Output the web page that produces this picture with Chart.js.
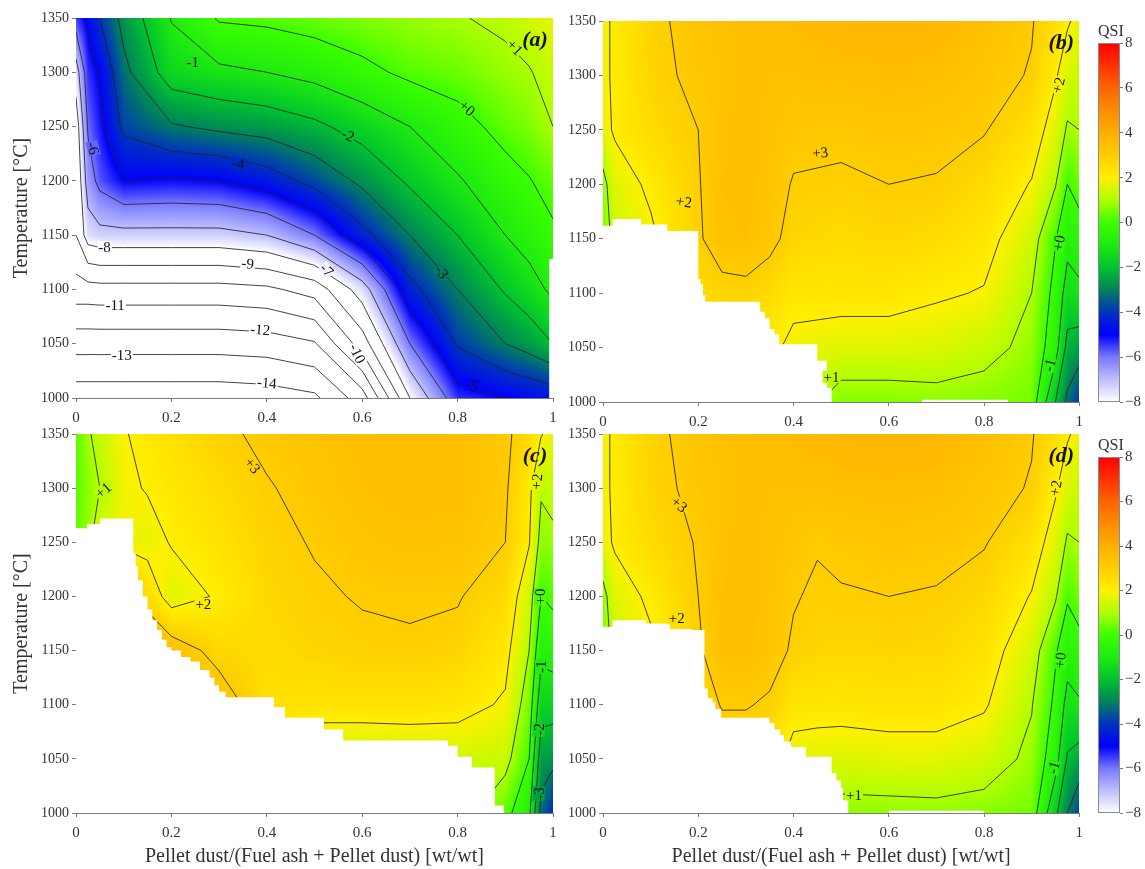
<!DOCTYPE html>
<html>
<head>
<meta charset="utf-8">
<title>QSI maps</title>
<script src="https://cdn.jsdelivr.net/npm/chart.js@4.4.1/dist/chart.umd.min.js"></script>
<style>
  html, body { margin: 0; padding: 0; background: #fff; }
  #stage { position: relative; width: 1145px; height: 869px; overflow: hidden; }
  #stage canvas { position: absolute; }
</style>
</head>
<body>
<div id="stage">
  <canvas id="chartA" width="570" height="430" style="left:0;top:0"></canvas>
  <canvas id="chartB" width="530" height="430" style="left:560px;top:0"></canvas>
  <canvas id="barTop" width="60" height="430" style="left:1082px;top:0"></canvas>
  <canvas id="chartC" width="570" height="454" style="left:0;top:415px"></canvas>
  <canvas id="chartD" width="530" height="454" style="left:560px;top:415px"></canvas>
  <canvas id="barBottom" width="60" height="454" style="left:1082px;top:415px"></canvas>
</div>
<script>
// ===== DATA =====
// Temperature rows of the calculation grid (°C), shared by the four maps
const temps = [1000, 1050, 1100, 1150, 1200, 1250, 1300, 1350];

// (a) QSI, one row per temperature (1000 -> 1350), one value per column in colsA
const colsA = [0, 0.025, 0.05, 0.1, 0.2, 0.3, 0.4, 0.5, 0.6, 0.7, 0.8, 0.9, 0.95, 1];
const qsiA = [
  [-14.6, -14.6, -14.6, -14.6, -14.6, -14.6, -14.5, -14.2, -12.5, -8.0, -5.4, -5.0, -4.8, -4.6],
  [-12.6, -12.6, -12.6, -12.6, -12.6, -12.6, -12.5, -12.1, -9.5, -6.0, -3.9, -3.0, -2.6, -2.0],
  [-10.4, -10.4, -10.35, -10.35, -10.35, -10.35, -10.2, -9.6, -7.5, -4.3, -3.0, -1.9, -1.4, -0.8],
  [-9.0, -7.5, -7.3, -7.3, -7.3, -7.3, -7.0, -6.0, -4.3, -3.0, -2.0, -1.0, -0.6, -0.15],
  [-9.0, -6.5, -5.7, -5.0, -5.1, -5.0, -4.5, -3.7, -2.8, -1.85, -1.1, -0.35, -0.05, 0.35],
  [-8.6, -5.9, -5.2, -3.8, -3.1, -2.8, -2.6, -2.2, -1.6, -1.0, -0.35, 0.3, 0.55, 1.0],
  [-7.5, -5.4, -4.9, -3.25, -1.5, -1.2, -1.0, -0.7, -0.25, 0.2, 0.4, 0.8, 0.95, 1.3],
  [-5.5, -4.8, -4.0, -2.7, -0.95, 0.1, 0.2, 0.4, 0.6, 0.8, 0.95, 1.15, 1.4, 1.75]
];
// lowest temperature with a result, as steps starting at each x
const floorA = [[0, 1000], [0.992, 1128], [1, 1128]];
const levelsA = [-14, -13, -12, -11, -10, -9, -8, -7, -6, -5, -4, -3, -2, -1, 0, 1];
const labelsA = [
  ['-1', 0.245, 1309], ['+0', 0.82, 1267], ['+1', 0.92, 1323], ['-2', 0.57, 1242],
  ['-3', 0.767, 1116], ['-4', 0.34, 1216], ['-5', 0.83, 1012], ['-6', 0.036, 1230],
  ['-7', 0.526, 1118], ['-8', 0.06, 1139], ['-9', 0.36, 1124], ['-10', 0.59, 1041],
  ['-11', 0.082, 1086], ['-12', 0.386, 1063], ['-13', 0.096, 1040], ['-14', 0.40, 1014]
];
const tiltA = [0, 40, 45, 25, 55, 8, 15, 75, 45, 0, 5, 65, 0, 5, 0, 5];

// (b)
const colsB = [0, 0.025, 0.1, 0.2, 0.25, 0.3, 0.35, 0.4, 0.5, 0.6, 0.7, 0.8, 0.9, 0.95, 0.975, 1];
const qsiB = [
  [0.5, 1.3, 1.8, 2.5, 2.5, 2.5, 2.3, 1.5, 0.6, 0.6, 0.7, 0.6, 0.5, -2.0, -3.2, -4.0],
  [0.5, 1.3, 1.8, 2.5, 2.5, 2.5, 2.2, 1.8, 1.6, 1.6, 1.55, 1.3, 0.75, -0.6, -2.3, -2.5],
  [0.5, 1.3, 1.8, 2.6, 2.75, 2.8, 2.6, 2.25, 2.3, 2.3, 2.1, 1.95, 1.0, -0.3, -1.4, -1.2],
  [0.5, 1.3, 1.85, 2.9, 3.4, 3.45, 3.2, 2.75, 2.6, 2.7, 2.6, 2.3, 1.4, 0.05, -0.7, -0.5],
  [0.7, 1.6, 2.15, 2.95, 3.45, 3.55, 3.3, 2.95, 2.9, 3.0, 2.95, 2.6, 1.95, 1.05, 0.0, 0.4],
  [1.75, 2.1, 2.6, 3.0, 3.4, 3.55, 3.4, 3.2, 3.15, 3.25, 3.2, 3.05, 2.45, 1.6, 0.9, 1.0],
  [1.8, 2.15, 2.75, 3.2, 3.35, 3.5, 3.45, 3.45, 3.5, 3.55, 3.5, 3.25, 2.95, 2.1, 1.5, 1.35],
  [1.8, 2.15, 2.8, 3.3, 3.4, 3.5, 3.55, 3.6, 3.7, 3.75, 3.7, 3.5, 3.05, 2.5, 2.1, 1.75]
];
const floorB = [
  [0, 1162], [0.02, 1168], [0.08, 1163], [0.135, 1157], [0.2, 1113], [0.205, 1108],
  [0.21, 1098], [0.215, 1092], [0.33, 1083], [0.34, 1077], [0.35, 1067], [0.36, 1062],
  [0.37, 1053], [0.45, 1038], [0.47, 1013], [0.48, 1000], [0.67, 1002], [0.85, 1000], [1, 1000]
];
const levelsB = [-3, -2, -1, 0, 1, 2, 3];
const labelsB = [
  ['+2', 0.17, 1184], ['+3', 0.456, 1229], ['+2', 0.956, 1291],
  ['+0', 0.957, 1146], ['-1', 0.9375, 1034], ['+1', 0.48, 1023]
];
const tiltB = [8, -5, -75, -80, -75, 0];

// (c)
const colsC = [0, 0.025, 0.05, 0.1, 0.15, 0.2, 0.3, 0.4, 0.5, 0.6, 0.7, 0.8, 0.9, 0.95, 0.975, 1];
const qsiC = [
  [0.3, 0.8, 2.0, 4.5, 4.0, 3.6, 3.5, 2.2, 1.2, 1.2, 1.3, 1.4, 0.3, -0.8, -3.3, -4.2],
  [0.3, 0.8, 2.0, 4.5, 4.0, 3.6, 3.5, 2.2, 1.2, 1.2, 1.3, 1.4, 1.3, 0.0, -2.55, -2.7],
  [0.3, 0.8, 2.0, 4.5, 4.0, 3.6, 3.5, 2.45, 2.4, 2.4, 2.4, 2.3, 1.9, 0.5, -1.6, -1.6],
  [0.3, 0.8, 2.0, 4.5, 4.0, 3.5, 2.7, 2.6, 2.75, 2.85, 2.9, 2.8, 2.25, 1.0, -0.75, -0.6],
  [0.3, 0.8, 1.5, 3.5, 2.6, 1.6, 2.1, 2.7, 2.9, 3.05, 3.1, 3.05, 2.6, 1.4, 0.0, 0.2],
  [0.3, 0.8, 1.5, 1.8, 1.7, 2.05, 2.4, 2.8, 3.05, 3.3, 3.4, 3.35, 3.0, 2.05, 0.7, 0.8],
  [0.2, 0.7, 1.0, 1.85, 2.05, 2.25, 2.6, 2.95, 3.2, 3.45, 3.55, 3.5, 3.1, 2.2, 1.1, 1.3],
  [0.2, 0.9, 1.3, 1.95, 2.2, 2.45, 2.85, 3.15, 3.35, 3.5, 3.55, 3.5, 3.15, 2.6, 2.05, 1.7]
];
const floorC = [
  [0, 1263], [0.023, 1267], [0.05, 1272], [0.12, 1240], [0.125, 1228], [0.13, 1215],
  [0.14, 1200], [0.15, 1188], [0.16, 1178], [0.17, 1169], [0.18, 1160], [0.19, 1153],
  [0.2, 1150], [0.22, 1144], [0.24, 1140], [0.26, 1132], [0.28, 1125], [0.29, 1118],
  [0.3, 1112], [0.314, 1107], [0.415, 1098], [0.438, 1088], [0.52, 1077], [0.56, 1067],
  [0.78, 1062], [0.8, 1052], [0.83, 1042], [0.878, 1007], [0.897, 1000], [1, 1000]
];
const levelsC = [-3, -2, -1, 0, 1, 2, 3];
const labelsC = [
  ['+1', 0.057, 1298], ['+2', 0.267, 1193], ['+3', 0.37, 1321], ['+2', 0.966, 1306],
  ['+0', 0.973, 1200], ['-1', 0.975, 1135], ['-2', 0.97, 1077], ['-3', 0.97, 1018]
];
const tiltC = [-40, 0, 50, -85, -90, -90, -90, -90];

// (d)
const colsD = [0, 0.025, 0.1, 0.2, 0.25, 0.3, 0.35, 0.4, 0.45, 0.5, 0.6, 0.7, 0.8, 0.9, 0.95, 0.975, 1];
const qsiD = [
  [0.5, 1.3, 1.8, 2.5, 2.6, 2.6, 2.4, 1.4, 1.0, 0.7, 0.7, 0.75, 0.65, 0.5, -1.8, -3.0, -3.8],
  [0.5, 1.3, 1.8, 2.5, 2.55, 2.55, 2.4, 1.7, 1.6, 1.55, 1.65, 1.65, 1.45, 0.8, -0.6, -2.1, -2.4],
  [0.5, 1.3, 1.8, 2.6, 3.05, 3.05, 2.9, 2.3, 2.3, 2.3, 2.35, 2.35, 2.1, 1.05, -0.2, -1.3, -1.1],
  [0.5, 1.3, 1.85, 2.9, 3.45, 3.5, 3.3, 2.9, 2.75, 2.7, 2.75, 2.7, 2.4, 1.45, 0.1, -0.6, -0.4],
  [0.7, 1.6, 2.15, 3.0, 3.45, 3.55, 3.35, 3.05, 2.9, 2.95, 3.0, 2.95, 2.7, 1.95, 1.1, 0.1, 0.5],
  [1.75, 2.1, 2.6, 3.05, 3.4, 3.55, 3.4, 3.25, 3.05, 3.15, 3.25, 3.2, 3.05, 2.45, 1.6, 0.9, 1.0],
  [1.8, 2.15, 2.75, 3.2, 3.35, 3.5, 3.45, 3.45, 3.45, 3.5, 3.55, 3.5, 3.25, 2.95, 2.1, 1.5, 1.35],
  [1.8, 2.15, 2.8, 3.3, 3.4, 3.5, 3.55, 3.6, 3.65, 3.7, 3.75, 3.7, 3.5, 3.05, 2.5, 2.1, 1.75]
];
const floorD = [
  [0, 1172], [0.02, 1178], [0.09, 1175], [0.14, 1170], [0.186, 1169], [0.213, 1115],
  [0.22, 1106], [0.23, 1102], [0.236, 1096], [0.248, 1088], [0.35, 1083], [0.36, 1077],
  [0.372, 1072], [0.38, 1066], [0.395, 1061], [0.426, 1052], [0.48, 1037], [0.49, 1030],
  [0.5, 1023], [0.504, 1012], [0.515, 1000], [0.6, 1002], [0.8, 1000], [1, 1000]
];
const levelsD = [-3, -2, -1, 0, 1, 2, 3];
const labelsD = [
  ['+3', 0.16, 1285], ['+2', 0.155, 1180], ['+2', 0.95, 1300],
  ['+0', 0.96, 1141], ['-1', 0.946, 1042], ['+1', 0.527, 1017]
];
const tiltD = [40, 0, -80, -85, -75, 0];

// QSI colour scale: value -> rgb
const qsiStops = [
  [-8, [255, 255, 255]], [-7, [190, 190, 255]], [-6, [120, 120, 255]], [-5, [0, 0, 255]],
  [-4, [0, 50, 190]], [-3, [0, 130, 90]], [-2, [0, 195, 45]], [-1, [30, 235, 15]],
  [0, [60, 255, 0]], [1, [175, 255, 0]], [2, [255, 240, 0]], [3, [255, 205, 0]],
  [4, [255, 175, 0]], [5, [255, 140, 0]], [6, [255, 100, 0]], [7, [255, 50, 0]], [8, [255, 0, 0]]
];

// ===== HELPERS =====
Chart.defaults.font.family = '"Liberation Serif", "Times New Roman", serif';
Chart.defaults.color = '#333';
const axisGrey = '#7a7a7a';

function qsiColor(v) {
  const s = qsiStops;
  if (v <= s[0][0]) return s[0][1];
  for (let k = 1; k < s.length; k++) {
    if (v <= s[k][0]) {
      const [v0, c0] = s[k - 1], [v1, c1] = s[k];
      const f = (v - v0) / (v1 - v0);
      return [c0[0] + (c1[0] - c0[0]) * f, c0[1] + (c1[1] - c0[1]) * f, c0[2] + (c1[2] - c0[2]) * f];
    }
  }
  return s[s.length - 1][1];
}

// cell index + fraction of v along a sorted grid axis
function locate(axis, v) {
  const n = axis.length;
  if (v <= axis[0]) return { i: 0, f: 0 };
  if (v >= axis[n - 1]) return { i: n - 2, f: 1 };
  let i = 0;
  while (axis[i + 1] < v) i++;
  return { i, f: (v - axis[i]) / (axis[i + 1] - axis[i]) };
}

function fieldAt(grid, cx, ty) {
  const r0 = grid[ty.i], r1 = grid[ty.i + 1];
  const a = r0[cx.i] + (r0[cx.i + 1] - r0[cx.i]) * cx.f;
  const b = r1[cx.i] + (r1[cx.i + 1] - r1[cx.i]) * cx.f;
  return a + (b - a) * ty.f;
}

// marching squares over the grid cells, one straight piece per crossing
function contourSegments(cols, grid, level) {
  const segs = [];
  const up = v => v >= level;
  const cut = (p, q, P, Q) => {
    const f = (level - p) / (q - p);
    return [P[0] + (Q[0] - P[0]) * f, P[1] + (Q[1] - P[1]) * f];
  };
  for (let j = 0; j < temps.length - 1; j++) {
    for (let i = 0; i < cols.length - 1; i++) {
      const A = [cols[i], temps[j]], B = [cols[i + 1], temps[j]];
      const C = [cols[i + 1], temps[j + 1]], D = [cols[i], temps[j + 1]];
      const a = grid[j][i], b = grid[j][i + 1], c = grid[j + 1][i + 1], d = grid[j + 1][i];
      const p = {};
      if (up(a) !== up(b)) p.s = cut(a, b, A, B);
      if (up(b) !== up(c)) p.e = cut(b, c, B, C);
      if (up(d) !== up(c)) p.n = cut(d, c, D, C);
      if (up(a) !== up(d)) p.w = cut(a, d, A, D);
      const k = Object.keys(p);
      if (k.length === 2) segs.push([p[k[0]], p[k[1]]]);
      else if (k.length === 4) {
        if (up((a + b + c + d) / 4) === up(a)) segs.push([p.s, p.e], [p.n, p.w]);
        else segs.push([p.s, p.w], [p.e, p.n]);
      }
    }
  }
  return segs;
}

const mapSetup = {
  chartA: { tag: '(a)', cols: colsA, grid: qsiA, levels: levelsA, labels: labelsA, tilt: tiltA },
  chartB: { tag: '(b)', cols: colsB, grid: qsiB, levels: levelsB, labels: labelsB, tilt: tiltB },
  chartC: { tag: '(c)', cols: colsC, grid: qsiC, levels: levelsC, labels: labelsC, tilt: tiltC },
  chartD: { tag: '(d)', cols: colsD, grid: qsiD, levels: levelsD, labels: labelsD, tilt: tiltD }
};

// ===== FIELD LAYER: shaded map + isolines under the no-data mask =====
const fieldLayer = {
  id: 'fieldLayer',
  beforeDatasetsDraw(chart) {
    const m = mapSetup[chart.canvas.id];
    const { ctx, chartArea: area, scales: { x, y } } = chart;
    const w = Math.round(area.right - area.left), h = Math.round(area.bottom - area.top);
    const buf = document.createElement('canvas');
    buf.width = w; buf.height = h;
    const bctx = buf.getContext('2d');
    const img = bctx.createImageData(w, h);
    const cx = [], ty = [];
    for (let i = 0; i < w; i++) cx.push(locate(m.cols, x.getValueForPixel(area.left + i + 0.5)));
    for (let j = 0; j < h; j++) ty.push(locate(temps, y.getValueForPixel(area.top + j + 0.5)));
    let k = 0;
    for (let j = 0; j < h; j++) {
      for (let i = 0; i < w; i++) {
        const c = qsiColor(fieldAt(m.grid, cx[i], ty[j]));
        img.data[k++] = c[0]; img.data[k++] = c[1]; img.data[k++] = c[2]; img.data[k++] = 255;
      }
    }
    bctx.putImageData(img, 0, 0);
    ctx.drawImage(buf, area.left, area.top);

    ctx.save();
    ctx.beginPath();
    ctx.rect(area.left, area.top, area.right - area.left, area.bottom - area.top);
    ctx.clip();
    ctx.strokeStyle = 'rgba(35,35,35,0.85)';
    ctx.lineWidth = 1;
    ctx.beginPath();
    m.levels.forEach(level => {
      contourSegments(m.cols, m.grid, level).forEach(([p, q]) => {
        ctx.moveTo(x.getPixelForValue(p[0]), y.getPixelForValue(p[1]));
        ctx.lineTo(x.getPixelForValue(q[0]), y.getPixelForValue(q[1]));
      });
    });
    ctx.stroke();
    ctx.restore();
  },
  afterDatasetsDraw(chart) {
    const m = mapSetup[chart.canvas.id];
    const { ctx, chartArea: area, scales: { x, y } } = chart;
    ctx.save();
    ctx.font = '15px "Liberation Serif", "Times New Roman", serif';
    ctx.textAlign = 'center';
    ctx.textBaseline = 'middle';
    m.labels.forEach(([text, xv, tv], n) => {
      const px = x.getPixelForValue(xv), py = y.getPixelForValue(tv);
      const c = qsiColor(fieldAt(m.grid, locate(m.cols, xv), locate(temps, tv)));
      const tw = ctx.measureText(text).width;
      ctx.save();
      ctx.translate(px, py);
      ctx.rotate(m.tilt[n] * Math.PI / 180);
      ctx.fillStyle = `rgb(${c.map(Math.round).join(',')})`;
      ctx.fillRect(-tw / 2 - 1, -6, tw + 2, 12);
      ctx.fillStyle = '#111';
      ctx.fillText(text, 0, 1);
      ctx.restore();
    });
    ctx.font = 'italic bold 22px "Liberation Serif", "Times New Roman", serif';
    ctx.fillStyle = '#111';
    ctx.fillText(m.tag, area.right - 18, area.top + 22);
    ctx.restore();
  }
};

// ===== COLOUR BAR LAYER =====
const barLayer = {
  id: 'barLayer',
  beforeDatasetsDraw(chart) {
    const { ctx, chartArea: area, scales: { y } } = chart;
    for (let py = Math.floor(area.top); py < area.bottom; py++) {
      const c = qsiColor(y.getValueForPixel(py + 0.5));
      ctx.fillStyle = `rgb(${c.map(Math.round).join(',')})`;
      ctx.fillRect(area.left, py, area.right - area.left, 1);
    }
    ctx.strokeStyle = '#8a8a8a';
    ctx.lineWidth = 1;
    ctx.strokeRect(area.left + 0.5, area.top + 0.5, area.right - area.left - 1, area.bottom - area.top - 1);
  }
};

function xAxis(withTitle, height) {
  return {
    type: 'linear', min: 0, max: 1, z: 1,
    border: { display: true, color: axisGrey },
    grid: { drawOnChartArea: false, tickLength: 4, color: axisGrey },
    ticks: { stepSize: 0.2, padding: 7, font: { size: 15 }, color: '#333', callback: v => String(+v.toFixed(1)) },
    title: {
      display: withTitle, text: 'Pellet dust/(Fuel ash + Pellet dust) [wt/wt]',
      font: { size: 20 }, color: '#333', padding: { top: 0, bottom: 0 }
    },
    afterFit: s => { s.height = height; }
  };
}

function yAxis(withTitle, width) {
  return {
    type: 'linear', min: 1000, max: 1350, z: 1,
    border: { display: true, color: axisGrey },
    grid: { drawOnChartArea: false, tickLength: 4, color: axisGrey },
    ticks: { stepSize: 50, padding: 3, font: { size: 14 }, color: '#333', callback: v => String(v) },
    title: {
      display: withTitle, text: 'Temperature [°C]',
      font: { size: 20 }, color: '#333', padding: { top: 10, bottom: 0 }
    },
    afterFit: s => { s.width = width; }
  };
}

function mapChart(id, floor, pad, yTitle, yWidth, xTitle, xHeight) {
  return new Chart(document.getElementById(id), {
    type: 'line',
    data: {
      datasets: [{
        data: floor.map(([x, t]) => ({ x, y: t })),
        stepped: true,
        fill: 'start',
        backgroundColor: '#ffffff',
        borderColor: 'rgba(0,0,0,0)',
        borderWidth: 0,
        pointRadius: 0
      }]
    },
    options: {
      responsive: false,
      animation: false,
      events: [],
      layout: { padding: pad },
      plugins: { legend: { display: false }, tooltip: { enabled: false } },
      scales: { x: xAxis(xTitle, xHeight), y: yAxis(yTitle, yWidth) }
    },
    plugins: [fieldLayer]
  });
}

function colourBar(id, titleTop, bottomPad) {
  return new Chart(document.getElementById(id), {
    type: 'line',
    data: { datasets: [] },
    options: {
      responsive: false,
      animation: false,
      events: [],
      layout: { padding: { left: 16, right: 0, top: 0, bottom: bottomPad } },
      plugins: {
        legend: { display: false },
        tooltip: { enabled: false },
        title: {
          display: true, text: 'QSI', align: 'start', color: '#333',
          font: { size: 16, weight: 'normal' }, padding: { top: titleTop, bottom: 1.4 }
        }
      },
      scales: {
        x: { type: 'linear', display: false, min: 0, max: 1 },
        y: {
          type: 'linear', position: 'right', min: -8, max: 8,
          border: { display: false },
          grid: { drawOnChartArea: false, tickLength: 3, color: axisGrey },
          ticks: { stepSize: 2, padding: 2, font: { size: 15 }, color: '#333',
                   callback: v => (v < 0 ? '\u2212' + (-v) : String(v)) },
          afterFit: s => { s.width = 22; }
        }
      }
    },
    plugins: [barLayer]
  });
}

// ===== CHARTS =====
mapChart('chartA', floorA, { top: 18, right: 17, left: 0, bottom: 0 }, true, 76, false, 32);
mapChart('chartB', floorB, { top: 21, right: 7, left: 0, bottom: 0 }, false, 43, false, 28);
mapChart('chartC', floorC, { top: 19, right: 17, left: 0, bottom: 0 }, true, 76, true, 56);
mapChart('chartD', floorD, { top: 19, right: 7, left: 0, bottom: 0 }, false, 43, true, 56);
colourBar('barTop', 22.4, 28);
colourBar('barBottom', 21.4, 56);
</script>
</body>
</html>
